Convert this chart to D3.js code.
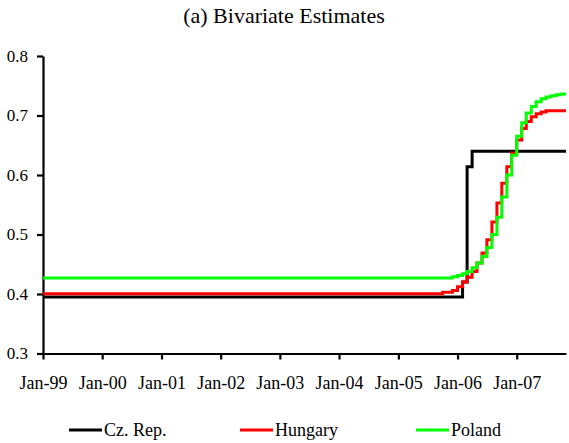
<!DOCTYPE html>
<html>
<head>
<meta charset="utf-8">
<script src="https://cdn.jsdelivr.net/npm/d3@7"></script>
</head>
<body style="margin:0">
<svg id="chart" width="569" height="443"></svg>
<script>
// data, step changes only (value holds until next date)
let czDates = ["1999-01", "2006-02", "2006-03", "2006-04", "2007-11"];
let czValues = [0.395, 0.420, 0.614, 0.640, 0.640];

let huDates = ["1999-01", "2005-10", "2005-12", "2006-01", "2006-02", "2006-03", "2006-04",
  "2006-05", "2006-06", "2006-07", "2006-08", "2006-09", "2006-10", "2006-11", "2006-12",
  "2007-01", "2007-02", "2007-03", "2007-04", "2007-05", "2007-06", "2007-07", "2007-11"];
let huValues = [0.4005, 0.403, 0.406, 0.412, 0.420, 0.428, 0.438,
  0.452, 0.469, 0.491, 0.521, 0.553, 0.586, 0.614, 0.637,
  0.659, 0.678, 0.690, 0.698, 0.703, 0.706, 0.708, 0.708];

let plDates = ["1999-01", "2005-12", "2006-01", "2006-02", "2006-03", "2006-04",
  "2006-05", "2006-06", "2006-07", "2006-08", "2006-09", "2006-10", "2006-11", "2006-12",
  "2007-01", "2007-02", "2007-03", "2007-04", "2007-05", "2007-06", "2007-07",
  "2007-08", "2007-09", "2007-10", "2007-11"];
let plValues = [0.427, 0.429, 0.431, 0.434, 0.438, 0.444,
  0.452, 0.463, 0.478, 0.500, 0.529, 0.563, 0.600, 0.633,
  0.665, 0.688, 0.704, 0.715, 0.723, 0.728, 0.731,
  0.733, 0.735, 0.736, 0.736];

let seriesNames = ["Cz. Rep.", "Hungary", "Poland"];
let seriesColors = ["#000000", "#ff0000", "#00ff00"];
let yTicks = [0.3, 0.4, 0.5, 0.6, 0.7, 0.8];

let parse = d3.timeParse("%Y-%m");
let toPoints = (dates, vals) => dates.map((d, i) => ({ date: parse(d), value: vals[i] }));
let series = [
  toPoints(czDates, czValues),
  toPoints(huDates, huValues),
  toPoints(plDates, plValues)
];

let svg = d3.select("#chart");

// scales
let x = d3.scaleTime()
  .domain([parse("1999-01"), parse("2007-11")])
  .range([43, 566]);
let y = d3.scaleLinear()
  .domain([0.3, 0.8])
  .range([353.5, 56]);

// x axis
let xAxis = svg.append("g")
  .attr("transform", "translate(0," + y(0.3) + ")")
  .call(d3.axisBottom(x)
    .ticks(d3.timeYear.every(1))
    .tickFormat(d3.timeFormat("%b-%y"))
    .tickSize(6)
    .tickSizeOuter(0)
    .tickPadding(17));
xAxis.attr("font-family", null).attr("font-size", null);
xAxis.selectAll("text").attr("font-size", 18);

// y axis
let yAxis = svg.append("g")
  .attr("transform", "translate(" + x.range()[0] + ",0)")
  .call(d3.axisLeft(y)
    .tickValues(yTicks)
    .tickFormat(d3.format(".1f"))
    .tickSize(6)
    .tickSizeOuter(0)
    .tickPadding(9));
yAxis.attr("font-family", null).attr("font-size", null);
yAxis.selectAll("text").attr("font-size", 17);

svg.selectAll(".domain, .tick line")
  .attr("stroke", "#000")
  .attr("stroke-width", 2.2);

// step lines
let line = d3.line()
  .x(d => x(d.date))
  .y(d => y(d.value))
  .curve(d3.curveStepAfter);

svg.selectAll(".series")
  .data(series)
  .enter()
  .append("path")
  .attr("class", "series")
  .attr("fill", "none")
  .attr("stroke", (d, i) => seriesColors[i])
  .attr("stroke-width", 3)
  .attr("d", line);

// title
svg.append("text")
  .attr("x", 284)
  .attr("y", 23)
  .attr("text-anchor", "middle")
  .attr("font-size", 22)
  .text("(a) Bivariate Estimates");

// legend
let legendX = [69, 240, 416];
let legend = svg.selectAll(".legend")
  .data(seriesNames)
  .enter()
  .append("g")
  .attr("class", "legend")
  .attr("transform", (d, i) => "translate(" + legendX[i] + ",430)");
legend.append("line")
  .attr("x1", 0).attr("x2", 33)
  .attr("stroke", (d, i) => seriesColors[i])
  .attr("stroke-width", 3);
legend.append("text")
  .attr("x", 35)
  .attr("y", 6)
  .attr("font-size", 18)
  .text(d => d);

// fonts last, same way as on every text
svg.selectAll("text").style("font-family", "\"Liberation Serif\"");
</script>
</body>
</html>
